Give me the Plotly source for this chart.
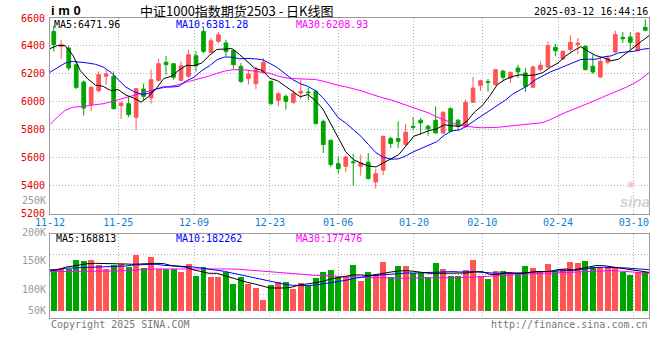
import plotly.graph_objects as go

# ---------------- data ----------------
tick_idx = [0, 9, 19, 29, 38, 48, 57, 67, 77]
tick_text = ["11-12", "11-25", "12-09", "12-23", "01-06", "01-20", "02-10", "02-24", "03-10"]

open_ = [6504, 6397, 6385, 6266, 6142, 5980, 6080, 6183, 6183, 5973,
         5987, 5890, 6092, 6028, 6154, 6283, 6273, 6154, 6183, 6330,
         6504, 6354, 6433, 6421, 6368, 6254, 6166, 6130, 6211, 6147,
         6011, 6040, 5997, 6064, 6071, 6076, 5861, 5726, 5559, 5540,
         5571, 5540, 5569, 5428, 5511, 5738, 5738, 5695, 5826, 5869,
         5826, 5869, 5778, 5952, 5869, 5826, 5997, 6118, 6145, 6123,
         6221, 6171, 6242, 6207, 6105, 6231, 6250, 6390, 6307, 6374,
         6409, 6397, 6255, 6178, 6283, 6357, 6462, 6464, 6366, 6533]
high = [6545, 6445, 6402, 6290, 6154, 6111, 6218, 6230, 6218, 6004,
        6040, 6100, 6130, 6230, 6306, 6330, 6278, 6290, 6373, 6361,
        6530, 6457, 6500, 6445, 6373, 6278, 6230, 6254, 6314, 6154,
        6069, 6052, 6083, 6159, 6100, 6088, 5873, 5731, 5611, 5616,
        5630, 5623, 5635, 5521, 5759, 5750, 5861, 5842, 5890, 5885,
        5838, 5968, 5933, 5961, 5878, 6016, 6178, 6159, 6164, 6235,
        6230, 6218, 6266, 6243, 6259, 6290, 6433, 6416, 6366, 6476,
        6457, 6405, 6338, 6314, 6331, 6509, 6500, 6500, 6500, 6590]
low = [6361, 6306, 6226, 6092, 5902, 5933, 6068, 6123, 5945, 5878,
       5890, 5802, 6016, 5987, 6147, 6195, 6159, 6147, 6171, 6218,
       6349, 6349, 6420, 6326, 6235, 6135, 6123, 6092, 6202, 5980,
       5968, 5945, 5987, 6021, 6011, 5838, 5635, 5535, 5487, 5497,
       5402, 5473, 5445, 5380, 5476, 5671, 5671, 5683, 5795, 5766,
       5759, 5773, 5773, 5785, 5795, 5814, 5992, 6080, 6073, 6118,
       6154, 6135, 6171, 6071, 6100, 6219, 6243, 6326, 6302, 6350,
       6343, 6224, 6200, 6171, 6267, 6350, 6421, 6374, 6362, 6505]
close = [6409, 6411, 6242, 6104, 5956, 6104, 6195, 6199, 5952, 5992,
         5909, 6095, 6040, 6159, 6273, 6266, 6176, 6259, 6337, 6259,
         6361, 6437, 6480, 6361, 6266, 6147, 6199, 6230, 6283, 5987,
         6059, 6004, 6059, 6076, 6066, 5845, 5695, 5552, 5523, 5606,
         5566, 5564, 5452, 5487, 5754, 5702, 5719, 5783, 5818, 5850,
         5807, 5778, 5926, 5790, 5826, 5997, 6099, 6152, 6140, 6230,
         6176, 6211, 6214, 6112, 6250, 6262, 6402, 6366, 6362, 6426,
         6421, 6231, 6214, 6290, 6314, 6481, 6452, 6426, 6493, 6512]

ma5 = [6381, 6404, 6402, 6335, 6224, 6163, 6120, 6112, 6081, 6088,
       6049, 6029, 5998, 6039, 6095, 6167, 6183, 6227, 6262, 6259,
       6278, 6331, 6375, 6380, 6381, 6338, 6291, 6241, 6225, 6169,
       6152, 6113, 6078, 6037, 6053, 6010, 5948, 5847, 5736, 5644,
       5588, 5562, 5542, 5535, 5565, 5592, 5623, 5689, 5755, 5774,
       5795, 5807, 5836, 5830, 5825, 5863, 5928, 5973, 6043, 6124,
       6159, 6182, 6194, 6189, 6193, 6210, 6248, 6278, 6328, 6364,
       6395, 6361, 6331, 6316, 6294, 6306, 6350, 6393, 6433, 6473]
ma10 = [6212, 6243, 6278, 6290, 6285, 6278, 6269, 6250, 6212, 6156,
        6106, 6075, 6055, 6060, 6092, 6108, 6106, 6112, 6151, 6177,
        6223, 6257, 6301, 6321, 6320, 6308, 6311, 6308, 6302, 6275,
        6245, 6202, 6160, 6131, 6111, 6081, 6030, 5963, 5887, 5849,
        5799, 5755, 5695, 5636, 5604, 5590, 5593, 5616, 5645, 5670,
        5694, 5715, 5762, 5793, 5800, 5829, 5867, 5904, 5937, 5975,
        6011, 6055, 6084, 6116, 6158, 6185, 6215, 6236, 6259, 6278,
        6303, 6305, 6305, 6322, 6329, 6351, 6356, 6362, 6375, 6383]
ma30 = [5838, 5893, 5940, 5962, 5966, 5972, 5979, 5987, 6000, 6016,
        6030, 6047, 6064, 6080, 6092, 6102, 6111, 6124, 6142, 6155,
        6170, 6185, 6204, 6220, 6229, 6231, 6227, 6220, 6213, 6204,
        6186, 6173, 6167, 6164, 6164, 6160, 6149, 6133, 6118, 6108,
        6095, 6080, 6062, 6043, 6027, 6014, 5996, 5979, 5960, 5943,
        5920, 5893, 5870, 5850, 5835, 5825, 5818, 5815, 5814, 5818,
        5824, 5829, 5833, 5837, 5842, 5852, 5874, 5902, 5925, 5947,
        5968, 5990, 6012, 6037, 6058, 6080, 6105, 6132, 6165, 6209]

volume = [133300, 135000, 135000, 150000, 148900, 150000, 142200, 135000, 141700, 143300,
          138900, 158300, 136700, 155600, 135000, 135000, 135000, 130600, 143300, 123900,
          137800, 122200, 122200, 129400, 110000, 121100, 110000, 103300, 83300, 108300,
          112800, 112800, 101700, 111100, 107200, 119400, 129400, 133300, 122200, 122200,
          141700, 115600, 130600, 126700, 147200, 122200, 140600, 140600, 127800, 127800,
          122200, 145000, 135000, 123900, 123900, 133300, 150600, 123900, 118300, 132200,
          132200, 129400, 125000, 140000, 136700, 130600, 143300, 132200, 135000, 147200,
          145000, 148900, 137800, 136100, 137800, 137800, 130600, 125600, 130600, 130600]
vol_ma5 = [133300, 133300, 137800, 140000, 142200, 143900, 144400, 144400, 144400, 143900,
           143300, 142800, 143300, 144400, 144400, 143900, 140600, 139400, 137800, 133300,
           131100, 127800, 127800, 123900, 120600, 116700, 112800, 110000, 106700, 103300,
           103300, 103300, 105000, 108900, 110000, 111700, 114400, 118300, 120600, 122800,
           125000, 125000, 123900, 125600, 127200, 130000, 131700, 132200, 131100, 128900,
           127800, 127800, 127800, 128300, 127800, 128300, 130000, 130600, 126000, 125600,
           128900, 128300, 127200, 128900, 130600, 130600, 131100, 133900, 135000, 133300,
           136100, 138900, 140600, 140600, 138900, 137200, 135600, 132800, 132200, 129400]
vol_ma10 = [132800, 135000, 136100, 136700, 137200, 137200, 137800, 137800, 138900, 139400,
            140000, 141700, 142200, 143300, 142800, 141100, 140000, 139400, 138900, 138300,
            136700, 134400, 132800, 131100, 128300, 125600, 122200, 119400, 117200, 114400,
            111100, 109400, 107800, 107200, 107200, 108300, 110000, 111700, 113900, 116100,
            118900, 121700, 123300, 124400, 125600, 126700, 127800, 128300, 128300, 128900,
            129400, 130000, 130600, 130600, 130000, 130600, 130600, 129400, 128300, 127800,
            127800, 127800, 128300, 128900, 130000, 130600, 130600, 131100, 131700, 132800,
            134400, 136100, 137200, 137800, 137800, 137800, 136700, 135600, 135000, 133900]
vol_ma30 = [130600, 130600, 131100, 131100, 130600, 130600, 130600, 131100, 131100, 131700,
            132200, 133300, 133900, 134400, 135000, 135000, 135600, 135600, 135600, 135600,
            136100, 136100, 135600, 135600, 135000, 134400, 133300, 132800, 132200, 131100,
            130000, 128900, 127800, 126700, 125600, 124400, 123900, 123300, 122800, 122800,
            121100, 121100, 120600, 120600, 120000, 120000, 119400, 119400, 120000, 120000,
            119400, 119400, 120000, 120000, 120600, 121100, 121100, 122200, 122800, 123900,
            125000, 125600, 126100, 126700, 127200, 127800, 128300, 129400, 130000, 130000,
            130600, 131100, 131100, 131700, 132200, 131700, 131100, 130000, 128900, 127800]

price_ticks = [5200, 5400, 5600, 5800, 6000, 6200, 6400, 6600]
vol_label_text = ["250K", "200K", "150K", "100K", "50K"]

title_text = "中证1000指数期货2503 - 日K线图"
stamp_text = "2025-03-12 16:44:16"
price_ma_text = ["MA5:6471.96", "MA10:6381.28", "MA30:6208.93"]
vol_ma_text = ["MA5:168813", "MA10:182262", "MA30:177476"]

# ---------------- styling ----------------
RED = "#ff5555"
GREEN = "#00a600"
MONO = "DejaVu Sans Mono, Liberation Mono, monospace"
W, H = 660, 360
ML, MR, MT, MB = 50, 11, 18, 42
PW, PH = W - ML - MR, H - MT - MB
VOL_BASE = 65500

N = len(close)
xs = list(range(N))
# moving-average lines and date labels use the edge-to-edge scale of the original chart
line_x = [i * N / (N - 1) - 0.5 for i in xs]
tick_pos = [i * N / (N - 1) - 0.5 for i in tick_idx]
bar_colors = [RED if c >= o else GREEN for o, c in zip(open_, close)]


def paper(xp, yp):
    return (xp - ML) / PW, (H - MB - yp) / PH


fig = go.Figure()
fig.add_trace(go.Candlestick(
    x=xs, open=open_, high=high, low=low, close=close,
    increasing=dict(line=dict(color=RED, width=1), fillcolor=RED),
    decreasing=dict(line=dict(color=GREEN, width=1), fillcolor=GREEN),
    whiskerwidth=0, hoverinfo="skip", xaxis="x", yaxis="y", showlegend=False))
for vals, col in ((ma30, "#ff00ff"), (ma10, "#0000ff"), (ma5, "#000000")):
    fig.add_trace(go.Scatter(x=line_x, y=vals, mode="lines", line=dict(color=col, width=1),
                             hoverinfo="skip", xaxis="x", yaxis="y", showlegend=False))

fig.add_trace(go.Bar(
    x=xs, y=[v - VOL_BASE for v in volume], base=VOL_BASE, width=0.8,
    marker=dict(color=bar_colors, line=dict(width=0)),
    hoverinfo="skip", xaxis="x2", yaxis="y2", showlegend=False))
for vals, col in ((vol_ma30, "#ff00ff"), (vol_ma10, "#0000ff"), (vol_ma5, "#000000")):
    fig.add_trace(go.Scatter(x=line_x, y=vals, mode="lines", line=dict(color=col, width=1),
                             hoverinfo="skip", xaxis="x2", yaxis="y2", showlegend=False))

grid = dict(showgrid=True, gridcolor="#b4b4b4", griddash="1px,2px", gridwidth=1,
            showline=True, linecolor="#9a9a9a", linewidth=1, mirror=True,
            zeroline=False, ticks="")

price_dom = [(H - MB - 213.8) / PH, 1.0]
vol_dom = [0.0, (H - MB - 234) / PH]

fig.update_layout(
    width=W, height=H, margin=dict(l=ML, r=MR, t=MT, b=MB),
    paper_bgcolor="white", plot_bgcolor="white", boxgap=0.3, bargap=0,
    xaxis=dict(domain=[0, 1], range=[-0.5, N - 0.5], anchor="y",
               tickvals=tick_pos, ticktext=tick_text,
               tickfont=dict(family=MONO, size=10, color="#0c7fd0"),
               rangeslider=dict(visible=False), ticklabelstandoff=-1, **grid),
    yaxis=dict(domain=price_dom, range=[5200, 6600], anchor="x",
               tickvals=price_ticks, ticktext=[str(t) for t in price_ticks],
               tickfont=dict(family=MONO, size=10, color="#e00000"),
               ticklabelstandoff=2, **grid),
    xaxis2=dict(domain=[0, 1], range=[-0.5, N - 0.5], anchor="y2",
                tickvals=tick_pos, showticklabels=False, **grid),
    yaxis2=dict(domain=vol_dom, range=[53300, 193300], anchor="x2",
                tickvals=[158700, 125300, 92000], showticklabels=False, **grid),
)

ann = []


def text(xp, yp, s, color="#000", size=10, family=MONO, xanchor="left", bold=False, italic=False):
    px_, py_ = paper(xp, yp)
    if bold:
        s = "<b>" + s + "</b>"
    if italic:
        s = "<i>" + s + "</i>"
    ann.append(dict(x=px_, y=py_, xref="paper", yref="paper", text=s, showarrow=False,
                    xanchor=xanchor, yanchor="middle", borderpad=0,
                    font=dict(family=family, size=size, color=color)))


text(50, 11, "i m 0", size=13, family="Liberation Sans, Arial, sans-serif", bold=True)
text(236.5, 10, title_text, size=13, family="Noto Sans CJK SC, sans-serif", xanchor="center")
text(649, 12, stamp_text, xanchor="right")

for s, xp, col in zip(price_ma_text, (53, 175, 295), ("#000000", "#0000ff", "#ff00ff")):
    text(xp, 24, s, color=col)
for s, xp, col in zip(vol_ma_text, (55, 175, 295), ("#000000", "#0000ff", "#ff00ff")):
    text(xp, 238.5, s, color=col)

for s, yp in zip(vol_label_text, (200, 232, 260, 289.5, 310.5)):
    text(47, yp, s, color="#9a9a9a", xanchor="right")

text(50, 324, "Copyright 2025 SINA.COM", color="#777777")
text(649, 324, "http://finance.sina.com.cn", color="#777777", xanchor="right")
text(651, 201, "sina", color="#d2d2d2", size=15, family="Liberation Sans, Arial, sans-serif",
     xanchor="right", bold=True, italic=True)
text(631, 184, "◉", color="#f2c4c4", size=9, family="DejaVu Sans", xanchor="center")

fig.update_layout(annotations=ann)
fig.write_html("out.html", config={"displayModeBar": False, "staticPlot": True},
               post_script="document.body.style.margin='0';")
